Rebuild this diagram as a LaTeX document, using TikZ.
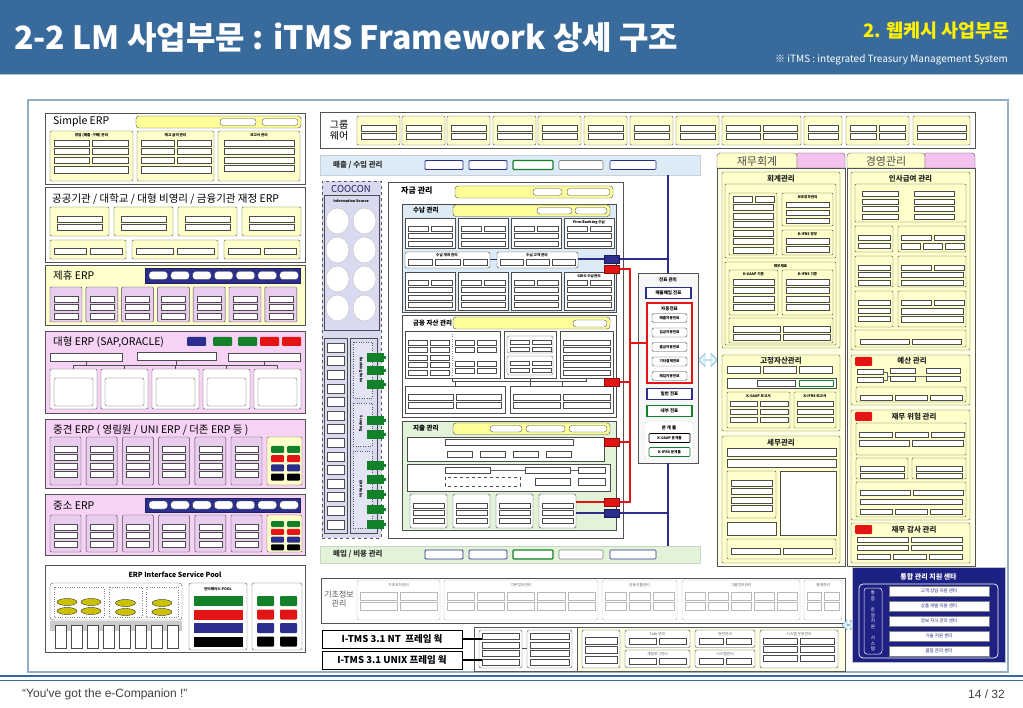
\documentclass[tikz,border=0pt]{standalone}
\usepackage{fontspec}
\setmainfont{Noto Sans CJK KR}
\newfontfamily\lat{Liberation Sans}
\usetikzlibrary{fit,shapes.arrows}

\definecolor{band}{HTML}{386A9C}
\definecolor{framebd}{HTML}{94ADCA}
\definecolor{cream}{HTML}{FFFFCC}
\definecolor{creamlt}{HTML}{FFFFE6}
\definecolor{ybarfill}{HTML}{FFFF99}
\definecolor{pinkbg}{HTML}{F6D3F4}
\definecolor{lilac}{HTML}{E8CDEF}
\definecolor{pinktab}{HTML}{F3C2EF}
\definecolor{skyfill}{HTML}{DDEBF7}
\definecolor{mint}{HTML}{E2F3DA}
\definecolor{navy}{HTML}{2B2E8C}
\definecolor{coocon}{HTML}{D9D9EF}
\definecolor{tred}{HTML}{E31414}
\definecolor{tgreen}{HTML}{13812A}
\definecolor{deepblue}{HTML}{1D2183}

\tikzset{
  panel/.style={draw=gray!65!black, line width=0.6pt, inner sep=0pt},
  ypanel/.style={draw=olive!55!black, fill=cream, line width=0.45pt, rounded corners=1.2pt},
  ppanel/.style={draw=gray!60!black, fill=lilac, line width=0.45pt, rounded corners=1.2pt},
  wpanel/.style={draw=gray!60!black, fill=white, line width=0.45pt},
  ysub/.style={draw=gray!60!black, fill=cream, line width=0.4pt, rounded corners=1pt},
  sbox/.style={draw=black!70, fill=white, line width=0.3pt},
  pill/.style={draw=black!70, fill=white, line width=0.35pt, rounded corners=3pt},
  ybar/.style={draw=gray!60!black, fill=ybarfill, line width=0.4pt, rounded corners=3pt},
  navybar/.style={fill=navy, draw=navy!70!black},
  ttl/.style={anchor=west, inner sep=0pt, font=\fontsize{10.5}{10.5}\selectfont},
  sec/.style={inner sep=0pt, font=\fontsize{7.5}{7.5}\bfseries\selectfont, text=black!85},
  hdr/.style={inner sep=0pt, font=\fontsize{3.6}{3.6}\bfseries\selectfont},
  slipbox/.style={fill=white, minimum width=45, minimum height=11, inner sep=0pt, font=\fontsize{4.5}{4.5}\bfseries\selectfont},
  tagR/.style={fill=tred, draw=tred!60!black, minimum width=15, minimum height=8, inner sep=0pt},
  tagB/.style={fill=navy, draw=navy!60!black, minimum width=15, minimum height=8, inner sep=0pt},
  redln/.style={draw=tred, line width=2pt},
  blueln/.style={draw=navy, line width=1.8pt},
  linkarrow/.style={double arrow, draw=gray!50!cyan, fill=cyan!12, inner sep=0pt, double arrow head extend=2.5pt},
}

\newcommand\boxgrid[6]{%
  \foreach \ci in {1,...,#3}{\foreach \cj in {1,...,#4}{%
    \draw[sbox] ({#1+(\ci-1)*(#5+3)},{#2+(\cj-1)*(#6+2.5)}) rectangle ++({#5},{#6});}}}
\newcommand\hd[3]{\node[hdr] at (#1,#2) {#3};}

\begin{document}
\begin{tikzpicture}[x=1pt, y=-1pt]
\useasboundingbox (0,0) rectangle (1023,708);

% title band
\fill[band] (0,0) rectangle (1023,74);
\draw[band!40!white, line width=1pt] (0,74.5) -- (1023,74.5);
\node[font=\fontsize{32}{32}\bfseries\selectfont, text=white, anchor=west, inner sep=0pt] (title) at (14,38) {2-2 LM 사업부문 : iTMS Framework 상세 구조};
\node[font=\fontsize{18.5}{18.5}\bfseries\selectfont, text=yellow, anchor=east, inner sep=0pt] (unit) at (1010,31) {2. 웹케시 사업부문};
\node[font=\fontsize{10}{10}\selectfont, text=white, anchor=east, inner sep=0pt] (note) at (1008,60) {※ iTMS : integrated Treasury Management System};

\draw[framebd, line width=1.2pt, fill=white] (28,100) rectangle (1008,672);

% footer
\draw[band, line width=1.6pt] (0,676) -- (1023,676);
\draw[band, line width=0.6pt] (0,680.5) -- (1023,680.5);
\node[font=\lat\fontsize{12}{12}\selectfont, text=black!75, anchor=west, inner sep=0pt] (motto) at (22,694) {“You've got the e-Companion !”};
\node[font=\lat\fontsize{12}{12}\selectfont, text=black!75, anchor=east, inner sep=0pt] (page) at (1005,694) {14 / 32};

%%% left column : ERP
\node[panel, fill=white, fit={(45,113)(305,184)}] (simple) {};
\node[ttl] at (53,122) {Simple ERP};
\draw[ybar] (136,116) rectangle (301,128);
\draw[pill] (220,118.5) rectangle (256,125.5);
\draw[pill] (262,118.5) rectangle (298,125.5);
\draw[ypanel] (50,131) rectangle (133,181); \hd{91.5}{135.5}{영업 (매출·구매) 관리}
\boxgrid{54}{140}{2}{3}{35.5}{6}
\draw[sbox] (54,166) rectangle (128,173);
\draw[ypanel] (137,131) rectangle (214,181); \hd{175.5}{135.5}{재고 급여 관리}
\boxgrid{141}{140}{2}{3}{33.5}{6}
\draw[sbox] (141,166) rectangle (211,173);
\draw[ypanel] (218,131) rectangle (300,181); \hd{259}{135.5}{보고서 관리}
\boxgrid{224}{140}{1}{4}{70}{6}

\node[panel, fill=white, fit={(45,187)(305,262)}] (public) {};
\node[ttl] at (52,199) {공공기관 / 대학교 / 대형 비영리 / 금융기관 재정 ERP};
\foreach \x in {50,114,178,242}{\draw[ypanel] (\x,207) rectangle ++(59,29); \boxgrid{\x+7}{216}{1}{2}{45}{6}}
\foreach \x/\w in {50/76,132/86,224/76}{\draw[ypanel] (\x,240) rectangle ++(\w,19);
  \draw[sbox] (\x+4,248) rectangle ++(\w/2-6,6); \draw[sbox] (\x+\w/2+2,248) rectangle ++(\w/2-6,6);}

\node[panel, fill=cream, fit={(45,265)(305,325)}] (alliance) {};
\node[ttl] at (53,276) {제휴 ERP};
\draw[navybar] (145,268) rectangle (300,283);
\foreach \i in {0,...,6} \draw[pill] (149+21.8*\i,271.5) rectangle ++(18.5,8);
\foreach \i in {0,...,6}{\draw[ppanel] (50+35.8*\i,287) rectangle ++(32,35); \boxgrid{54+35.8*\i}{296}{1}{3}{24}{6}}

\node[panel, fill=pinkbg, fit={(45,331)(305,413)}] (large) {};
\node[ttl] at (53,342) {대형 ERP (SAP,ORACLE)};
\foreach \x/\col in {187/navy,213/tgreen,238/tgreen,260/tred,282/tred} \fill[\col, rounded corners=1pt] (\x,337) rectangle ++(19,9);
\draw[sbox] (50,353) rectangle (122,361);
\draw[sbox] (137,352) rectangle (216,360);
\draw[sbox] (228,353) rectangle (300,361);
\draw[black!70, line width=0.4pt] (86,361) -- (86,365) (176,360) -- (176,365) (264,361) -- (264,365) (73.5,365) -- (277.5,365);
\foreach \k in {0,...,4}{\draw[black!70, line width=0.4pt] (73.5+51*\k,365) -- (73.5+51*\k,369);
  \draw[wpanel, rounded corners=1.2pt] (50+51*\k,369) rectangle ++(47,40);
  \draw[sbox, rounded corners=2pt] (54+51*\k,378) rectangle ++(39,28);}

\node[panel, fill=pinkbg, fit={(45,419)(305,488)}] (midsize) {};
\node[ttl] at (53,430) {중견 ERP ( 영림원 / UNI ERP / 더존 ERP 등 )};
\foreach \i in {0,...,5}{\draw[ppanel] (50+36.2*\i,437) rectangle ++(31,48); \boxgrid{54+36.2*\i}{446}{1}{4}{23}{6}}
\draw[ypanel] (267,437) rectangle (302,485);
\foreach \col [count=\j from 0] in {tgreen,tred,navy,black}{
  \fill[\col, rounded corners=1pt] (271,446+9.2*\j) rectangle ++(13,7);
  \fill[\col, rounded corners=1pt] (287,446+9.2*\j) rectangle ++(13,7);}

\node[panel, fill=pinkbg, fit={(45,494)(305,555)}] (smallerp) {};
\node[ttl] at (53,506) {중소 ERP};
\draw[navybar] (145,498) rectangle (300,512);
\foreach \i in {0,...,6} \draw[pill] (149+21.8*\i,501) rectangle ++(18.5,8);
\foreach \i in {0,...,5}{\draw[ppanel] (50+36.2*\i,515) rectangle ++(31,37); \boxgrid{54+36.2*\i}{524}{1}{3}{23}{6}}
\draw[ypanel] (267,515) rectangle (302,552);
\foreach \col [count=\j from 0] in {tgreen,tred,navy,black}{
  \fill[\col, rounded corners=1pt] (271,521+7.8*\j) rectangle ++(13,6);
  \fill[\col, rounded corners=1pt] (287,521+7.8*\j) rectangle ++(13,6);}

\node[panel, fill=white, fit={(45,565)(305,652)}] (iface) {};
\node[font=\fontsize{7}{7}\bfseries\selectfont, inner sep=0pt] at (175,575) {ERP Interface Service Pool};
\draw[gray!70!black, rounded corners=3pt] (50,583) rectangle (182,620);
\foreach \x/\w in {54/50,109/33,146/32} \draw[gray, dotted] (\x,587) rectangle ++(\w,30);
\foreach \p in {(67,602),(91,602),(67,611),(91,611),(125.5,603),(125.5,612),(162,603),(162,612)}
  \draw[fill=olive!45!yellow, draw=black!80, line width=0.4pt] \p ellipse (10pt and 3.5pt);
\fill[gray!40] (50,621) rectangle (182,631);
\foreach \i in {0,...,7} \draw[sbox] (55+16*\i,625) rectangle ++(11,23);
\draw[gray!70!black, rounded corners=2pt] (189,583) rectangle (247,650);
\hd{218}{589}{인터페이스 POOL}
\foreach \col [count=\j from 0] in {tgreen,tred,navy,black} \fill[\col] (194,596+13.5*\j) rectangle ++(49,10);
\draw[gray!70!black, rounded corners=2pt] (252,583) rectangle (302,650);
\foreach \col [count=\j from 0] in {tgreen,tred,navy,black}{
  \fill[\col, rounded corners=1pt] (257,596+13.5*\j) rectangle ++(17,10);
  \fill[\col, rounded corners=1pt] (280,596+13.5*\j) rectangle ++(17,10);}

%%% group ware
\node[panel, fill=white, fit={(320,112)(975,148)}] (groupware) {};
\node[font=\fontsize{10}{11}\selectfont, align=center, inner sep=0pt] at (339,130) {그룹\\웨어};
\foreach \x in {357,402,447,493,538,584,630,676}{\draw[ypanel] (\x,116) rectangle ++(43,29); \boxgrid{\x+4}{125}{1}{2}{35}{6}}
\foreach \x/\w in {722/79,846/63}{\draw[ypanel] (\x,116) rectangle ++(\w,29); \boxgrid{\x+4}{125}{2}{2}{(\w-11)/2}{6}}
\foreach \x/\w in {804/38,913/57}{\draw[ypanel] (\x,116) rectangle ++(\w,29); \boxgrid{\x+4}{125}{1}{2}{\w-8}{6}}

%%% sales / purchase bars
\node[inner sep=0pt, fill=skyfill, draw=skyfill!75!gray, fit={(320,155)(700,175)}] (sales) {};
\node[font=\fontsize{7.5}{7.5}\bfseries\selectfont, anchor=west, inner sep=0pt, text=black!80] at (333,165) {매출 / 수입 관리};
\node[inner sep=0pt, fill=mint, draw=mint!75!gray, fit={(320,546)(700,563)}] (purch) {};
\node[font=\fontsize{7.5}{7.5}\bfseries\selectfont, anchor=west, inner sep=0pt, text=black!80] at (333,554.5) {매입 / 비용 관리};
\foreach \y in {160.5,550}{
  \foreach \x/\w/\col/\lw in {425/38/navy/0.8,469/38/navy/0.8,513/40/tgreen/1.2,559/44/gray/0.6,610/46/navy/0.6}
    \draw[\col, fill=white, line width=\lw pt, rounded corners=1pt] (\x,\y) rectangle ++(\w,9);}

%%% COOCON
\node[inner sep=0pt, draw=gray!70!black, dashed, fill=coocon, fit={(322,181)(381,538)}] (coocon) {};
\node[font=\fontsize{9.5}{9.5}\selectfont, text=navy!70!black, inner sep=0pt] at (351,189) {COOCON};
\draw[gray!60!black, line width=0.4pt] (324,195) rectangle (379,330);
\hd{351}{201}{Information Source}
\foreach \x in {337.5,364.5}{\foreach \y in {221,250,279,308}
  \draw[fill=white, draw=gray!50] (\x,\y) ellipse (11.5pt and 13pt);}
\draw[gray!60!black, fill=coocon] (324,338) rectangle (347,533);
\foreach \j in {0,...,13} \draw[sbox] (327,343+13.6*\j) rectangle ++(17,9);
\draw[gray!60!black, fill=coocon] (350,338) rectangle (377,533);
\foreach \ya/\yb in {342/398,403/446,451/528} \draw[gray!70!black, dotted, fill=coocon!70!white] (353,\ya) rectangle (372,\yb);
\node[hdr, rotate=-90] at (361,370) {Banking Robo};
\node[hdr, rotate=-90] at (361,424) {Scraping};
\node[hdr, rotate=-90] at (361,489) {ERP Robo};
\foreach \y in {353,366,380,416,430,461,475,490,505,520}{
  \fill[tgreen] (367,\y) rectangle ++(17,9); \fill[tgreen] (384,\y+3) rectangle ++(2,3);}

%%% fund management
\node[panel, fill=white, fit={(388,182)(623,538)}] (fund) {};
\node[font=\fontsize{8}{8}\bfseries\selectfont, anchor=west, inner sep=0pt] at (401,191) {자금 관리};
\draw[ybar] (455,186) rectangle (613,198);
\draw[pill] (533,188.5) rectangle (562,195.5);
\draw[pill] (567,188.5) rectangle (610,195.5);

% receipts
\node[inner sep=0pt, fill=skyfill, draw=gray!60!black, fit={(402,204)(616,312)}] (recv) {};
\node[font=\fontsize{6.5}{6.5}\bfseries\selectfont, anchor=west, inner sep=0pt] at (413,210.5) {수납 관리};
\draw[ybar] (453,205) rectangle (610,216.5);
\draw[pill] (537,207.5) rectangle (572,214);
\draw[pill] (575,207.5) rectangle (607,214);
\foreach \x in {405,458,511,564}{\draw[wpanel] (\x,218.5) rectangle ++(50,29.5);
  \boxgrid{\x+3}{226}{2}{1}{20.5}{5} \boxgrid{\x+3}{233.5}{1}{2}{44}{5}}
\hd{589}{222.5}{Firm Banking 수납}
\node[wpanel, inner sep=0pt, rounded corners=1.5pt, fit={(405,252)(490,268)}] (racct) {};
\hd{447}{255.5}{수납 계좌 관리}
\boxgrid{408}{259.5}{3}{1}{24.5}{6}
\node[wpanel, inner sep=0pt, rounded corners=1.5pt, fit={(497,252)(578,268)}] (rcust) {};
\hd{537}{255.5}{수납 고객 관리}
\boxgrid{500}{259.5}{3}{1}{23}{6}
\draw[navy, line width=1pt] (racct.east) -- (rcust.west);
\foreach \x in {405,458,511,564}{\draw[wpanel] (\x,272) rectangle ++(50,38);
  \boxgrid{\x+3}{280}{2}{1}{20.5}{5} \boxgrid{\x+3}{287.5}{1}{3}{44}{5}}
\hd{589}{276}{GIRO 수납관리}
\node[tagB] (tagB1) at (612,259) {};
\node[tagR] (tagR1) at (612,269) {};
\draw[blueln] (rcust.east |- tagB1.west) -- (tagB1.west);

% financial assets
\node[inner sep=0pt, fill=white, draw=gray!60!black, fit={(402,315)(616,417)}] (asset) {};
\node[font=\fontsize{6.5}{6.5}\bfseries\selectfont, anchor=west, inner sep=0pt] at (413,323) {금융 자산 관리};
\draw[ybar] (453,317) rectangle (610,329);
\draw[pill] (573,320) rectangle (607,327);
\draw[wpanel] (405,331) rectangle (500,378);
\draw[gray, dotted] (452,334) -- (452,375);
\boxgrid{408}{340}{2}{5}{19}{5}
\boxgrid{455}{340}{2}{2}{19}{5}
\boxgrid{455}{361}{2}{2}{19}{5}
\draw[wpanel] (504,331) rectangle (556,378);
\draw[sbox, rounded corners=2pt] (507,336) rectangle (553,353);
\boxgrid{510}{340}{2}{2}{19}{4.5}
\draw[sbox, rounded corners=2pt] (507,356) rectangle (553,375);
\boxgrid{510}{361}{2}{2}{19}{4.5}
\draw[wpanel] (560,331) rectangle (613,378);
\boxgrid{563}{340}{1}{5}{47}{5}
\draw[gray!60!black] (452,378) -- (452,381) -- (586,381) -- (586,378) (530,378) -- (530,386) (455,381) -- (455,386) (562,381) -- (562,386);
\draw[wpanel] (405,386) rectangle (505,413);
\boxgrid{408}{394}{2}{2}{45}{6}
\draw[wpanel] (510,386) rectangle (613,413);
\boxgrid{513}{394}{2}{2}{47}{6}
\node[tagR] (tagR2) at (612,382) {};

% payments
\node[inner sep=0pt, fill=mint, draw=gray!60!black, fit={(402,421)(616,530)}] (spend) {};
\node[font=\fontsize{6.5}{6.5}\bfseries\selectfont, anchor=west, inner sep=0pt] at (413,428) {지출 관리};
\draw[ybar] (453,423) rectangle (610,434.5);
\draw[pill] (490,425.5) rectangle (522,432);
\draw[pill] (526,425.5) rectangle (565,432);
\draw[pill] (569,425.5) rectangle (607,432);
\draw[wpanel] (407,437) rectangle (604,461);
\draw[sbox] (445,439) rectangle (573,445.5);
\foreach \x in {447,480,513,546} \draw[sbox] (\x,451) rectangle ++(25,6);
\draw[wpanel] (407,464) rectangle (610,491);
\draw[sbox] (445,467) rectangle (490,473);
\draw[sbox] (525,467) rectangle (570,473);
\draw[sbox] (578,467) rectangle (605,473);
\draw[black!60] (490,470) -- (525,470) (570,470) -- (578,470);
\draw[sbox, dashed] (445,477) rectangle (520,486);
\draw[sbox] (535,478) rectangle (570,485);
\draw[sbox] (578,478) rectangle (605,485);
\foreach \x in {410,453,496}{\draw[wpanel, rounded corners=1.5pt] (\x,494) rectangle ++(37,34); \boxgrid{\x+3}{503}{1}{3}{31}{5}}
\node[wpanel, inner sep=0pt, rounded corners=1.5pt, fit={(539,494)(576,528)}] (spay) {};
\boxgrid{542}{503}{1}{3}{31}{5}
\node[tagR] (tagR3) at (612,442) {};
\node[tagR] (tagR4) at (612,502) {};
\node[tagB] (tagB2) at (612,513) {};
\draw[redln] (spay.east |- tagR4.west) -- (tagR4.west);
\draw[blueln] (spay.east |- tagB2.west) -- (tagB2.west);

%%% slips
\node[inner sep=0pt, fill=gray!6, draw=gray!65!black, fit={(638,273)(698,463)}] (slip) {};
\node[hdr, font=\fontsize{4.5}{4.5}\bfseries\selectfont] at (668,280) {전표 관리};
\node[slipbox, draw=navy, line width=1.1pt] (salesslip) at (668.5,293) {매출매입 전표};
\node[inner sep=0pt, fill=white, draw=tred, line width=1.2pt, fit={(647,303)(692,383)}] (autoslip) {};
\node[hdr, font=\fontsize{4.5}{4.5}\bfseries\selectfont] at (669.5,309) {자동전표};
\foreach \lab [count=\j from 0] in {매출자동전표,입금자동전표,출금자동전표,기타결제전표,매입자동전표}
  \node[draw=black!70, rounded corners=1.5pt, fill=white, minimum width=35, minimum height=9, inner sep=0pt, font=\fontsize{3.6}{3.6}\bfseries\selectfont] (auto\j) at (669.5,318+14.5*\j) {\lab};
\node[slipbox, draw=navy, line width=1.1pt] (genslip) at (669.5,394) {일반 전표};
\node[slipbox, draw=tgreen, line width=1.1pt] (inslip) at (669.5,411) {내부 전표};
\node[inner sep=0pt, draw=gray!70!black, dotted, fill=white, rounded corners=2pt, fit={(645,422)(693,459)}] (jtool) {};
\node[hdr, font=\fontsize{4.5}{4.5}\bfseries\selectfont] at (669,428) {분 개 툴};
\node[draw=black, line width=0.7pt, fill=white, rounded corners=1pt, minimum width=41, minimum height=9, inner sep=0pt, font=\fontsize{3.6}{3.6}\bfseries\selectfont] (kgaap) at (669.5,438) {K-GAAP 분개툴};
\node[draw=tgreen, line width=0.7pt, fill=white, rounded corners=1pt, minimum width=41, minimum height=9, inner sep=0pt, font=\fontsize{3.6}{3.6}\bfseries\selectfont] (kifrs) at (669.5,452) {K-IFRS 분개툴};

% connectors
\coordinate (bus) at (630,0);
\draw[redln] (tagR1.east) -| (bus |- tagR4.east) -- (tagR4.east);
\foreach \tg in {tagR2,tagR3} \draw[redln] (\tg.east) -- (bus |- \tg.east);
\draw[redln] (bus |- autoslip.west) -- (autoslip.west);
\draw[blueln] (sales.south -| slip.north) -- (slip.north);
\draw[blueln] (tagB1.east) -- (tagB1.east -| slip.north);
\draw[blueln] (slip.south) -- (slip.south |- purch.north);
\draw[blueln] (tagB2.east) -- (tagB2.east -| slip.south);
\node[linkarrow, minimum width=13, minimum height=19] (link1) at (708,360) {};

%%% financial accounting
\filldraw[draw=gray!65!black, fill=cream] (717,168) [rounded corners=3pt] -- (717,153) -- (797,153) [sharp corners] -- (797,168) -- cycle;
\filldraw[draw=gray!65!black, fill=pinktab] (797,168) -- (797,153) [rounded corners=3pt] -- (845,153) [sharp corners] -- (845,168) -- cycle;
\node[font=\fontsize{11}{11}\selectfont, text=black!70, inner sep=0pt] (acctlab) at (757,161) {재무회계};
\node[inner sep=0pt, fill=creamlt, draw=gray!65!black, line width=0.6pt, fit={(717,168)(845,566)}] (acct) {};
\filldraw[draw=gray!65!black, fill=cream] (847,168) [rounded corners=3pt] -- (847,153) -- (925,153) [sharp corners] -- (925,168) -- cycle;
\filldraw[draw=gray!65!black, fill=pinktab] (925,168) -- (925,153) [rounded corners=3pt] -- (975,153) [sharp corners] -- (975,168) -- cycle;
\node[font=\fontsize{11}{11}\selectfont, text=black!70, inner sep=0pt] (mgmtlab) at (886,161) {경영관리};
\node[inner sep=0pt, fill=creamlt, draw=gray!65!black, line width=0.6pt, fit={(847,168)(975,566)}] (mgmt) {};

% accounting
\draw[ypanel] (722,172) rectangle (840,348);
\node[sec] at (781,179) {회계관리};
\draw[ysub] (725,184) rectangle (836,258);
\draw[ysub] (729,193) rectangle (777,255);
\boxgrid{733}{196}{2}{1}{19}{6}
\boxgrid{733}{204.5}{1}{6}{40}{6}
\draw[ysub] (782,193) rectangle (833,226); \hd{807.5}{197.5}{보조장부관리}
\boxgrid{786}{202}{1}{3}{43}{5.5}
\draw[ysub] (782,230) rectangle (833,255); \hd{807.5}{234}{K-IFRS 장부}
\boxgrid{786}{238.5}{1}{2}{43}{5.5}
\draw[ysub] (725,262) rectangle (836,345); \hd{780.5}{266}{재무제표}
\draw[ysub] (729,270) rectangle (778,315); \hd{753.5}{274.5}{K-GAAP 기준}
\boxgrid{733}{279}{1}{4}{41}{6}
\draw[ysub] (782,270) rectangle (833,315); \hd{807.5}{274.5}{K-IFRS 기준}
\boxgrid{786}{279}{1}{4}{43}{6}
\draw[ysub] (729,318) rectangle (833,343);
\boxgrid{733}{326}{2}{2}{47}{6}

% fixed assets
\draw[ypanel] (722,355) rectangle (840,431);
\node[sec] at (781,361) {고정자산관리};
\boxgrid{727}{366}{3}{1}{33}{7}
\draw[sbox] (727,378) rectangle (836,388);
\draw[sbox] (757,380) rectangle (795,386);
\draw[sbox, draw=tgreen] (799,380) rectangle (833,386);
\draw[ysub] (727,392) rectangle (790,428); \hd{758.5}{396}{K-GAAP 보고서}
\boxgrid{730}{401}{2}{3}{27.5}{5.5}
\draw[ysub, draw=tgreen!60!gray] (794,392) rectangle (836,428); \hd{815}{396}{K-IFRS 보고서}
\boxgrid{797}{401}{1}{3}{36}{5.5}

% tax
\draw[ypanel] (722,436) rectangle (840,563);
\node[sec] at (781,443) {세무관리};
\draw[sbox] (727,448) rectangle (836,456);
\draw[sbox] (727,459) rectangle (836,467);
\draw[ysub] (727,471) rectangle (776,518);
\boxgrid{731}{480}{1}{4}{41}{6}
\draw[sbox] (727,522) rectangle (776,535);
\draw[wpanel] (780,471) rectangle (836,535);
\draw[ysub] (727,539) rectangle (836,559);
\boxgrid{731}{548}{2}{1}{49}{6}

% payroll
\draw[ypanel] (851,172) rectangle (970,350);
\node[sec] at (910.5,179) {인사급여 관리};
\draw[ysub] (855,184) rectangle (966,222);
\boxgrid{862}{191.5}{1}{4}{36}{5}
\boxgrid{914}{191.5}{1}{4}{40}{5}
\draw[ysub] (855,226) rectangle (893,252); \boxgrid{858}{235}{1}{2}{32}{5.5}
\draw[ysub] (898,226) rectangle (966,252); \boxgrid{901}{235}{2}{1}{30}{5.5} \boxgrid{901}{243.5}{3}{1}{19}{5.5}
\draw[ysub] (855,256) rectangle (893,287); \boxgrid{858}{265}{1}{3}{32}{5}
\draw[ysub] (898,256) rectangle (966,287); \boxgrid{901}{265}{2}{1}{30}{5} \boxgrid{901}{272.5}{1}{2}{62}{5}
\draw[ysub] (855,291) rectangle (893,327); \boxgrid{858}{300}{1}{3}{32}{5.5}
\draw[ysub] (898,291) rectangle (966,327); \boxgrid{901}{300}{2}{1}{30}{5.5} \boxgrid{901}{308.5}{1}{2}{62}{5.5}
\draw[ysub] (855,330) rectangle (966,347); \boxgrid{860}{339}{2}{1}{49}{5.5}

% budget
\draw[ypanel] (851,355) rectangle (970,405);
\fill[tred, rounded corners=1pt] (855,357) rectangle (872,366);
\node[sec] at (912,361) {예산 관리};
\boxgrid{857}{369}{1}{2}{26}{5.5}
\boxgrid{890}{368}{1}{2}{25}{5.5}
\boxgrid{926}{368}{1}{2}{34}{5.5}
\draw[black!60] (883,372) -- (887,372) -- (887,380) -- (883,380) (887,376) -- (890,376) (915,376) -- (926,376);
\draw[ysub] (856,387) rectangle (966,402); \boxgrid{860}{395}{3}{1}{32}{5}

% financial risk
\draw[ypanel] (851,410) rectangle (970,520);
\fill[tred, rounded corners=1pt] (855,412) rectangle (872,421);
\node[sec] at (914,417) {재무 위험 관리};
\draw[ysub] (856,423) rectangle (966,455);
\boxgrid{859}{432}{3}{1}{33}{5.5}
\boxgrid{859}{440.5}{2}{1}{50.5}{5.5}
\draw[ysub] (856,458) rectangle (908,479); \boxgrid{860}{466.5}{1}{2}{44}{4.5}
\draw[ysub] (912,458) rectangle (966,479); \boxgrid{916}{466.5}{1}{2}{46}{4.5}
\draw[ysub] (856,482) rectangle (966,517);
\boxgrid{860}{490}{2}{1}{50}{5}
\draw[sbox] (860,499) rectangle (962,504);
\boxgrid{860}{509}{3}{1}{32}{5}

% audit
\draw[ypanel] (851,523) rectangle (970,563);
\fill[tred, rounded corners=1pt] (855,525) rectangle (872,534);
\node[sec] at (914,529.5) {재무 감사 관리};
\boxgrid{857}{537}{2}{1}{51}{5}
\boxgrid{857}{545.5}{2}{1}{51}{5}
\boxgrid{857}{554}{3}{1}{33}{5}

%%% base info
\node[panel, fill=white, fit={(321,578)(845,623)}] (basic) {};
\node[font=\fontsize{8}{9}\selectfont, text=black!65, align=center, inner sep=0pt] at (339,599) {기초정보\\관리};
\begin{scope}[sbox/.append style={draw=gray!55}]
\foreach \x/\w/\k/\lab in {357/83/2/기초코드관리,444/154/5/기본정보관리,602/75/3/공용상품관리,682/118/5/그룹정보관리,804/38/2/결재관리}{
  \draw[gray!60, rounded corners=2pt] (\x,580) rectangle ++(\w,40);
  \node[inner sep=0pt, font=\fontsize{3.8}{3.8}\selectfont, text=black!60] at (\x+\w/2,585) {\lab};
  \boxgrid{\x+3}{592}{\k}{2}{(\w-3-3*\k)/\k}{8}}
\end{scope}

%%% I-TMS frame
\node[draw=black, line width=0.9pt, fill=white, minimum width=140, minimum height=18, inner sep=0pt, font=\fontsize{9.5}{9.5}\bfseries\selectfont] (nt) at (392,639) {I-TMS 3.1 NT\ \ 프레임 웍};
\node[draw=black, line width=0.9pt, fill=white, minimum width=140, minimum height=18, inner sep=0pt, font=\fontsize{9.5}{9.5}\bfseries\selectfont] (unix) at (392,660) {I-TMS 3.1 UNIX 프레임 웍};
\node[inner sep=0pt, fill=white, draw=gray!70!black, fit={(474,627)(577,671)}] (core) {};
\draw[gray!70!black, rounded corners=2pt] (479,630) rectangle (522,668);
\boxgrid{482}{633.5}{1}{4}{37}{6}
\draw[gray!70!black, rounded corners=2pt] (527,630) rectangle (572,668);
\boxgrid{530}{633.5}{1}{4}{39}{6}
\draw[black!70] (522,648) -- (527,648);
\draw[line width=2pt] (nt.east) -- (nt.east -| core.west) -- ++(8,0);
\draw[line width=2pt] (unix.east) -- (unix.east -| core.west) -- ++(8,0);
\node[inner sep=0pt, fill=creamlt, draw=gray!70!black, fit={(577,627)(845,671)}] (ops) {};
\draw[wpanel, rounded corners=2pt] (582,630) rectangle (620,668);
\boxgrid{585}{637}{1}{3}{32}{7}
\foreach \x/\y/\w/\lab in {625/630/65/Task 관리,625/650/65/개발로그관리,695/630/60/권한관리,695/650/60/시스템관리}{
  \draw[wpanel, rounded corners=2pt] (\x,\y) rectangle ++(\w,17.5);
  \node[inner sep=0pt, font=\fontsize{3.8}{3.8}\selectfont, text=black!60] at (\x+\w/2,\y+4) {\lab};
  \boxgrid{\x+4}{\y+8.5}{2}{1}{(\w-11)/2}{6}}
\draw[wpanel, rounded corners=2pt] (760,630) rectangle (838,668);
\node[inner sep=0pt, font=\fontsize{3.8}{3.8}\selectfont, text=black!60] at (799,634) {시스템 운영관리};
\boxgrid{763}{638}{2}{3}{34}{6}
\node[linkarrow, minimum width=10, minimum height=13] (link2) at (848.5,625) {};

%%% support center
\node[inner sep=0pt, fill=deepblue, draw=gray!50, line width=0.8pt, fit={(852,567)(1005,662)}] (support) {};
\node[font=\fontsize{7}{7}\bfseries\selectfont, text=white, inner sep=0pt] (suptitle) at (928.5,577) {통합 관리 지원 센타};
\draw[white, rounded corners=4pt, line width=0.7pt] (859,584) rectangle (998,658);
\draw[white, rounded corners=3pt, line width=0.5pt] (864,588) rectangle (882,654);
\node[text=white, font=\fontsize{4.5}{5.6}\selectfont, align=center, inner sep=0pt] (supv) at (873,621) {통\\합\\ \\운\\영\\지\\원\\ \\시\\스\\템};
\foreach \lab [count=\j from 0] in {고객 상담 지원 센터,상품 개발 지원 센터,정보 지식 관리 센터,기술 지원 센터,품질 관리 센터}
  \node[fill=white, draw=gray, minimum width=100, minimum height=9.5, inner sep=0pt, font=\fontsize{4.5}{4.5}\selectfont, text=deepblue] (center\j) at (939,591+15*\j) {\lab};
\end{tikzpicture}
\end{document}
